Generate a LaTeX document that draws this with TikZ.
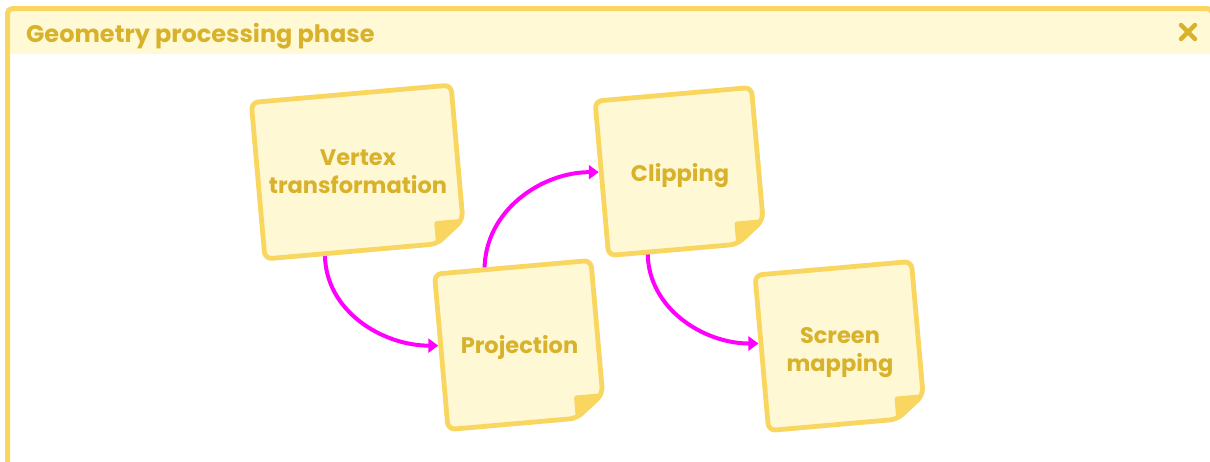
\documentclass[tikz,border=0pt]{standalone}
\usepackage{fontspec}
\setmainfont{Poppins}
\usetikzlibrary{calc,arrows.meta}

\definecolor{frameline}{HTML}{F9D65F}
\definecolor{headfill}{HTML}{FFF9D6}
\definecolor{noteborder}{HTML}{F9D65F}
\definecolor{notefill}{HTML}{FFF8D5}
\definecolor{goldtext}{HTML}{D8B22B}
\definecolor{flowc}{HTML}{FF00FF}

% outline of a sticky note with a folded bottom-right corner
\newcommand\stickynote[1]{%
  \coordinate (#1-p1) at ($(#1.south east)!22pt!(#1.north east)$);
  \coordinate (#1-p2) at ($(#1.south east)!28pt!(#1.south west)$);
  \coordinate (#1-tip) at ($(#1-p1)+(#1-p2)-(#1.south east)$);
  \path[notebody] (#1.north west) -- (#1.north east) -- (#1-p1) -- (#1-p2)
        -- (#1.south west) -- cycle;
  \path[noteflap] (#1-p1) -- (#1-tip) -- (#1-p2) -- cycle;
}

\tikzset{
  noteshape/.style={draw=none, inner sep=0pt, outer sep=0pt, rotate=5},
  notebody/.style={draw=noteborder, fill=notefill, line width=4.8pt,
                   rounded corners=7pt, line join=round},
  noteflap/.style={draw=noteborder, fill=noteborder, line width=1.5pt,
                   line join=round, rounded corners=2pt},
  notelabel/.style={text=goldtext, font=\bfseries\fontsize{22.5}{28}\selectfont,
                    align=center, inner sep=0pt},
  flow/.style={draw=flowc, line width=4pt,
               -{Triangle[length=10pt,width=14pt]}, shorten >=2.5pt},
  closeicon/.style={draw=goldtext, line width=4.5pt, line cap=round},
}

\begin{document}
\begin{tikzpicture}[x=1pt,y=-1pt]
\useasboundingbox (0,0) rectangle (1210,461);
\clip (0,0) rectangle (1210,461);
\fill[white] (0,0) rectangle (1210,461);

% panel with its header band
\fill[headfill] (9,10) rectangle (1210,54);
\draw[frameline, line width=5pt, rounded corners=5pt] (7.5,8.5) rectangle (1212.5,490);
\node[anchor=base west, text=goldtext, inner sep=0pt,
      font=\bfseries\fontsize{24}{28}\selectfont] (title) at (26,42) {Geometry processing phase};
\coordinate (close) at (1188,32);
\draw[closeicon] ($(close)+(-7,-7)$) -- ($(close)+(7,7)$)
                 ($(close)+(7,-7)$) -- ($(close)+(-7,7)$);

% note frames
\node[noteshape, minimum width=200.5pt, minimum height=157pt] (vt) at (358,172) {};
\node[noteshape, minimum width=157pt, minimum height=156pt] (proj) at (519.5,345) {};
\node[noteshape, minimum width=157pt, minimum height=155pt] (clip) at (680,171.5) {};
\node[noteshape, minimum width=157pt, minimum height=156pt] (screen) at (840,346) {};

% connectors
\draw[flow] ($(vt.south west)!0.3!(vt.south east)$) to[out=-90,in=180]
            ($(proj.north west)!0.46!(proj.south west)$);
\draw[flow] ($(proj.north west)!0.32!(proj.north east)$) to[out=90,in=180]
            ($(clip.north west)!0.46!(clip.south west)$);
\draw[flow] ($(clip.south west)!0.25!(clip.south east)$) to[out=-90,in=180]
            ($(screen.north west)!0.44!(screen.south west)$);

% notes
\stickynote{vt}
\stickynote{proj}
\stickynote{clip}
\stickynote{screen}

\node[notelabel] (vt-text) at ($(vt.center)+(0,0)$) {Vertex\\transformation};
\node[notelabel] (proj-text) at ($(proj.center)+(0,2)$) {Projection};
\node[notelabel] (clip-text) at ($(clip.center)+(0,4)$) {Clipping};
\node[notelabel] (screen-text) at ($(screen.center)+(0,7)$) {Screen\\mapping};
\end{tikzpicture}
\end{document}
